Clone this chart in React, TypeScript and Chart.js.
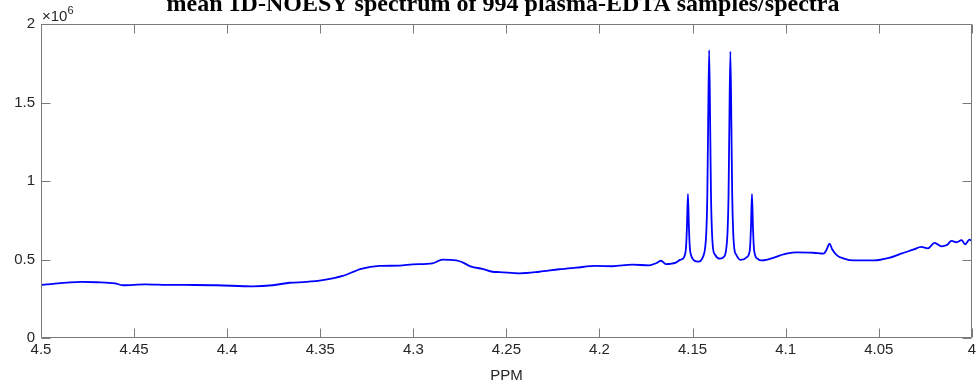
import React, { useEffect, useRef } from "react";
import { Chart, registerables } from "chart.js";

Chart.register(...registerables);

// Chemical shift (ppm) of each sampled point, from 4.5 down to 4.0
const ppm = [
  4.4996, 4.4782, 4.4701, 4.4603, 4.456, 4.4442, 4.4326, 4.4227, 4.4057, 4.3863,
  4.3755, 4.3664, 4.3575, 4.3487, 4.338, 4.328, 4.3181, 4.3074, 4.3004, 4.2897,
  4.2843, 4.277, 4.2736, 4.2689, 4.2629, 4.2575, 4.2538, 4.243, 4.2323, 4.2216,
  4.2126, 4.2019, 4.1931, 4.1824, 4.1733, 4.1697, 4.167, 4.1643, 4.159, 4.1568,
  // four-line multiplet between 4.155 and 4.115 ppm
  4.1552, 4.1541, 4.1535, 4.153, 4.1525, 4.152, 4.1515, 4.1509, 4.1493, 4.1468,
  4.1443, 4.1433, 4.1426, 4.1421, 4.1417, 4.1411, 4.1405, 4.1401, 4.1396, 4.139,
  4.1379, 4.1354,
  4.1329, 4.1319, 4.1312, 4.1307, 4.1303, 4.1297, 4.1291, 4.1287, 4.1282, 4.1276,
  4.1265, 4.1241,
  4.1208, 4.1197, 4.1191, 4.1186, 4.1181, 4.1176, 4.1171, 4.1165, 4.1149, 4.1131,
  4.0996, 4.0942, 4.0851,
  4.0797, 4.0781, 4.0764, 4.0751, 4.0724, 4.0687, 4.0634, 4.0525, 4.0445, 4.038,
  4.0311, 4.0272, 4.0236, 4.02, 4.0163, 4.0134, 4.0109, 4.0082, 4.0055, 4.0036,
  4.0013, 4.0,
];

// Mean intensity at each shift, in units of 10^6
const intensityE6 = [
  0.338, 0.357, 0.355, 0.348, 0.336, 0.342, 0.339, 0.338, 0.336, 0.329,
  0.336, 0.352, 0.357, 0.368, 0.395, 0.441, 0.459, 0.461, 0.469, 0.476,
  0.499, 0.495, 0.482, 0.454, 0.441, 0.422, 0.42, 0.412, 0.422, 0.438,
  0.448, 0.459, 0.457, 0.467, 0.463, 0.476, 0.492, 0.471, 0.48, 0.498,
  0.505, 0.53, 0.58, 0.72, 0.917, 0.72, 0.58, 0.53, 0.495, 0.486,
  0.52, 0.57, 0.68, 0.9, 1.3, 1.834, 1.3, 0.9, 0.68, 0.57,
  0.53, 0.505,
  0.52, 0.57, 0.68, 0.9, 1.3, 1.825, 1.3, 0.9, 0.68, 0.57,
  0.53, 0.497,
  0.515, 0.535, 0.58, 0.72, 0.917, 0.72, 0.58, 0.53, 0.503, 0.494,
  0.537, 0.545, 0.543,
  0.537, 0.561, 0.601, 0.567, 0.526, 0.506, 0.494, 0.494, 0.51, 0.537,
  0.564, 0.58, 0.571, 0.606, 0.584, 0.592, 0.618, 0.61, 0.623, 0.597,
  0.627, 0.618,
];

const xTicks = [4.5, 4.45, 4.4, 4.35, 4.3, 4.25, 4.2, 4.15, 4.1, 4.05, 4.0];
const yTicks = [0, 0.5, 1, 1.5, 2];

const titleText = "mean 1D-NOESY spectrum of 994 plasma-EDTA samples/spectra";
const xLabel = "PPM";

const SANS = "'Liberation Sans', Helvetica, Arial, sans-serif";
const TEXT_COLOR = "#262626";
const AXIS_COLOR = "#7a7a7a";
const TICK_LEN = 9;

const fmt = (v: number) => parseFloat(Number(v).toFixed(2)).toString();

// Box, inward ticks on all four sides, exponent label and figure title
const frame = {
  id: "frame",
  afterDraw(chart: any) {
    const { ctx, chartArea: a, scales } = chart;
    const xs = scales.x;
    const ys = scales.y;
    ctx.save();
    ctx.strokeStyle = AXIS_COLOR;
    ctx.lineWidth = 1;
    const L = Math.round(a.left) + 0.5;
    const R = Math.round(a.right) - 0.5;
    const T = Math.round(a.top) + 0.5;
    const B = Math.round(a.bottom) - 0.5;
    ctx.beginPath();
    ctx.rect(L, T, R - L, B - T);
    xTicks.forEach((v) => {
      const px = Math.round(xs.getPixelForValue(v)) + 0.5;
      ctx.moveTo(px, B);
      ctx.lineTo(px, B - TICK_LEN);
      ctx.moveTo(px, T);
      ctx.lineTo(px, T + TICK_LEN);
    });
    yTicks.forEach((v) => {
      const py = Math.round(ys.getPixelForValue(v)) + 0.5;
      ctx.moveTo(L, py);
      ctx.lineTo(L + TICK_LEN, py);
      ctx.moveTo(R, py);
      ctx.lineTo(R - TICK_LEN, py);
    });
    ctx.stroke();

    // ×10^6 multiplier above the y axis
    ctx.fillStyle = TEXT_COLOR;
    ctx.textAlign = "left";
    ctx.textBaseline = "alphabetic";
    ctx.font = `15px ${SANS}`;
    const base = "\u00d710";
    ctx.fillText(base, a.left + 1, 21);
    const w = ctx.measureText(base).width;
    ctx.font = `11px ${SANS}`;
    ctx.fillText("6", a.left + 1 + w, 14);

    // figure title, partly above the top edge of the page
    ctx.fillStyle = "#000000";
    ctx.textAlign = "center";
    ctx.font = "bold 24px 'Liberation Serif', 'Times New Roman', serif";
    ctx.fillText(titleText, 503, 11);
    ctx.restore();
  },
};

export default function App() {
  const ref = useRef<HTMLCanvasElement | null>(null);

  useEffect(() => {
    document.body.style.margin = "0";
    const canvas = ref.current;
    if (!canvas) return;
    const points = ppm.map((x, i) => ({ x, y: intensityE6[i] }));
    const chart = new Chart(canvas, {
      type: "line",
      data: {
        datasets: [
          {
            data: points,
            borderColor: "#0000ff",
            borderWidth: 1.8,
            borderJoinStyle: "round",
            borderCapStyle: "round",
            cubicInterpolationMode: "monotone",
            pointRadius: 0,
            fill: false,
          },
        ],
      },
      options: {
        animation: false,
        responsive: false,
        maintainAspectRatio: false,
        layout: { padding: { top: 24, right: 6, left: 0, bottom: 0 } },
        plugins: {
          legend: { display: false },
          tooltip: { enabled: false },
          title: { display: false },
        },
        scales: {
          x: {
            type: "linear",
            min: 4.0,
            max: 4.5,
            reverse: true,
            grid: { display: false, drawTicks: false },
            border: { display: false },
            afterBuildTicks: (s: any) => {
              s.ticks = xTicks.map((v) => ({ value: v }));
            },
            afterFit: (s: any) => {
              s.height = 52;
            },
            ticks: {
              autoSkip: false,
              maxRotation: 0,
              padding: 3,
              color: TEXT_COLOR,
              font: { family: SANS, size: 15 },
              callback: (v: any) => fmt(v),
            },
            title: {
              display: true,
              text: xLabel,
              color: TEXT_COLOR,
              font: { family: SANS, size: 15 },
              padding: { top: 0, bottom: 5 },
            },
          },
          y: {
            type: "linear",
            min: 0,
            max: 2,
            grid: { display: false, drawTicks: false },
            border: { display: false },
            afterBuildTicks: (s: any) => {
              s.ticks = yTicks.map((v) => ({ value: v }));
            },
            afterFit: (s: any) => {
              s.width = 41;
            },
            ticks: {
              padding: 6,
              color: TEXT_COLOR,
              font: { family: SANS, size: 15 },
              callback: (v: any) => fmt(v),
            },
          },
        },
      },
      plugins: [frame],
    });
    return () => chart.destroy();
  }, []);

  return (
    <div style={{ width: 979, height: 390, position: "relative", background: "#fff" }}>
      <canvas ref={ref} width={979} height={390} style={{ display: "block" }} />
    </div>
  );
}
